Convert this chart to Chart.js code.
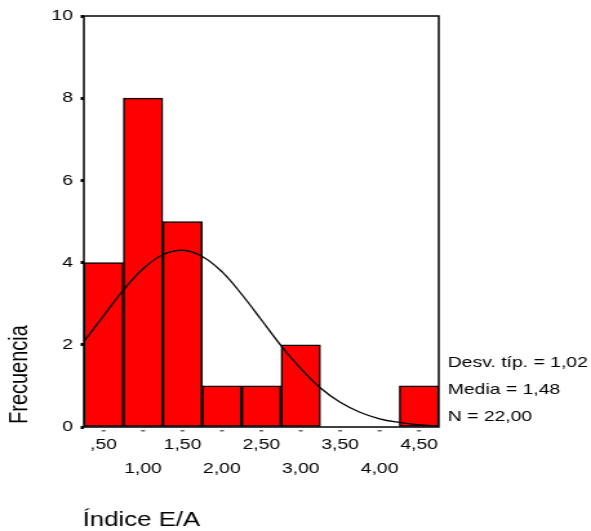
<!DOCTYPE html>
<html>
<head>
<meta charset="utf-8">
<script src="https://cdn.jsdelivr.net/npm/chart.js@4"></script>
<style>
  html, body { margin: 0; padding: 0; background: #fff; overflow: hidden; }
  /* the histogram is laid out narrow and widened, like the exported SPSS graphic */
  #wrap { width: 458px; height: 531px; transform: scaleX(1.2904); transform-origin: 0 0; }
</style>
</head>
<body>
<div id="wrap"><canvas id="hist" width="458" height="531"></canvas></div>
<script>
// histogram bins (centre of each 0,50-wide class) and counts
const binCenters = [0.5, 1.0, 1.5, 2.0, 2.5, 3.0, 3.5, 4.0, 4.5];
const frequencies = [4, 8, 5, 1, 1, 2, 0, 0, 1];
const binLabels = [',50', '1,00', '1,50', '2,00', '2,50', '3,00', '3,50', '4,00', '4,50'];
const yTicks = [0, 2, 4, 6, 8, 10];

// normal curve over the histogram
const curveX = [0.25, 0.5, 0.75, 1.0, 1.25, 1.5, 1.75, 2.0, 2.25, 2.5, 2.75, 3.0, 3.25, 3.5, 3.75, 4.0, 4.25, 4.5, 4.75];
const curveY = [2.08, 2.71, 3.33, 3.85, 4.19, 4.30, 4.15, 3.78, 3.23, 2.61, 1.98, 1.42, 0.95, 0.60, 0.36, 0.20, 0.11, 0.05, 0.03];

const stats = ['Desv. típ. = 1,02', 'Media = 1,48', 'N = 22,00'];
const xTitle = 'Índice E/A';
const yTitle = 'Frecuencia';

const FONT = '"Liberation Sans", Arial, sans-serif';
Chart.defaults.color = '#000';

const extras = {
  id: 'extras',
  afterDraw(chart) {
    const { ctx, chartArea: a, scales: { x } } = chart;
    ctx.save();
    // box around the plot
    ctx.strokeStyle = '#000';
    ctx.lineWidth = 1.5;
    ctx.strokeRect(a.left, a.top, a.right - a.left, a.bottom - a.top);

    // small marks under each class
    ctx.fillStyle = '#666';
    x.ticks.forEach(t => {
      const px = x.getPixelForValue(t.value);
      ctx.fillRect(px - 1.5, a.bottom + 3, 3, 1.5);
    });

    // summary statistics
    ctx.fillStyle = '#000';
    ctx.textAlign = 'left';
    ctx.textBaseline = 'alphabetic';
    ctx.font = '15px ' + FONT;
    stats.forEach((s, i) => ctx.fillText(s, a.right + 7, a.bottom - 60 + i * 27));

    // axis titles
    ctx.font = '20px ' + FONT;
    ctx.fillText(xTitle, a.left - 1, 526);

    ctx.translate(15, a.bottom - 3);
    ctx.rotate(-Math.PI / 2);
    ctx.textBaseline = 'middle';
    ctx.fillText(yTitle, 0, 0);
    ctx.restore();
  }
};

new Chart(document.getElementById('hist'), {
  data: {
    datasets: [
      {
        type: 'line',
        order: 0,
        data: curveX.map((v, i) => ({ x: v, y: curveY[i] })),
        borderColor: '#000',
        borderWidth: 1.3,
        pointRadius: 0,
        tension: 0.4,
        fill: false
      },
      {
        type: 'bar',
        order: 1,
        data: binCenters.map((v, i) => ({ x: v, y: frequencies[i] })),
        backgroundColor: '#ff0000',
        borderColor: '#000',
        borderWidth: 1.5,
        borderSkipped: false,
        barPercentage: 1,
        categoryPercentage: 1
      }
    ]
  },
  options: {
    responsive: false,
    animation: false,
    devicePixelRatio: 1,
    layout: { padding: { left: 0, right: 118, top: 16, bottom: 0 } },
    plugins: { legend: { display: false }, tooltip: { enabled: false } },
    scales: {
      x: {
        type: 'linear',
        min: 0.25,
        max: 4.75,
        offset: false,
        afterBuildTicks: s => { s.ticks = binCenters.map(v => ({ value: v })); },
        grid: { display: false, drawTicks: false, offset: false },
        border: { display: false },
        ticks: {
          autoSkip: false,
          maxRotation: 0,
          padding: 6,
          font: { family: FONT, size: 15, lineHeight: 1.6 },
          // alternate the labels over two rows
          callback: (v, i) => (i % 2 === 0 ? [binLabels[i], ''] : ['', binLabels[i]])
        },
        afterFit: s => { s.height = 104; }
      },
      y: {
        min: 0,
        max: 10,
        afterBuildTicks: s => { s.ticks = yTicks.map(v => ({ value: v })); },
        grid: { drawOnChartArea: false, drawTicks: true, tickLength: 2.5, tickWidth: 3, tickColor: '#000' },
        border: { display: false },
        ticks: { padding: 6, font: { family: FONT, size: 15 } },
        afterFit: s => { s.width = 65; }
      }
    }
  },
  plugins: [extras]
});
</script>
</body>
</html>
